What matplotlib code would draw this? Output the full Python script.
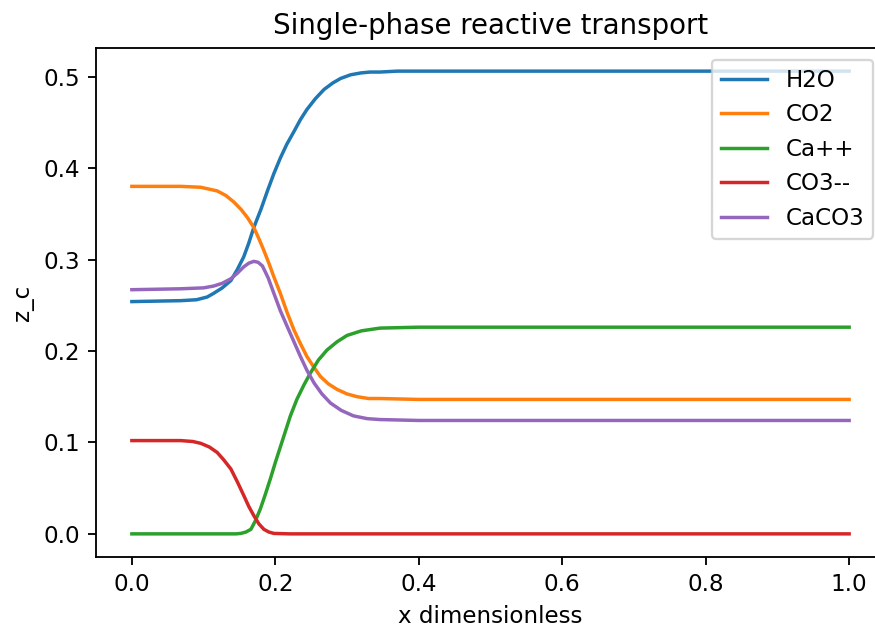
import matplotlib
matplotlib.use("Agg")
import matplotlib.pyplot as plt

# ---- data ----
h2o_x = [0.0, 0.068, 0.090, 0.105, 0.114, 0.126, 0.138, 0.147, 0.156, 0.163, 0.170, 0.180,
         0.189, 0.198, 0.207, 0.216, 0.226, 0.235, 0.244, 0.256, 0.268, 0.280, 0.291, 0.305,
         0.319, 0.332, 0.346, 0.370, 0.400, 1.0]
h2o_y = [0.254, 0.255, 0.256, 0.259, 0.263, 0.269, 0.277, 0.289, 0.303, 0.318, 0.335, 0.355,
         0.375, 0.394, 0.411, 0.426, 0.440, 0.453, 0.464, 0.476, 0.486, 0.493, 0.498, 0.502,
         0.504, 0.505, 0.505, 0.506, 0.506, 0.506]

co2_x = [0.0, 0.068, 0.096, 0.119, 0.131, 0.142, 0.152, 0.161, 0.170, 0.177, 0.184, 0.191,
         0.198, 0.207, 0.216, 0.226, 0.235, 0.244, 0.254, 0.263, 0.274, 0.286, 0.300, 0.314,
         0.330, 0.346, 0.400, 1.0]
co2_y = [0.380, 0.380, 0.379, 0.375, 0.370, 0.363, 0.355, 0.346, 0.335, 0.323, 0.310, 0.296,
         0.281, 0.263, 0.243, 0.223, 0.208, 0.194, 0.182, 0.172, 0.164, 0.158, 0.153, 0.150,
         0.148, 0.148, 0.147, 0.147]

ca_x = [0.0, 0.145, 0.152, 0.159, 0.166, 0.172, 0.179, 0.186, 0.193, 0.200, 0.207, 0.214,
        0.221, 0.230, 0.240, 0.249, 0.260, 0.272, 0.286, 0.300, 0.320, 0.346, 0.400, 1.0]
ca_y = [0.0, 0.0, 0.0005, 0.002, 0.005, 0.014, 0.027, 0.043, 0.060, 0.078, 0.095, 0.112,
        0.129, 0.147, 0.163, 0.176, 0.190, 0.201, 0.210, 0.217, 0.222, 0.225, 0.226, 0.226]

co3_x = [0.0, 0.068, 0.085, 0.096, 0.108, 0.119, 0.128, 0.138, 0.147, 0.156, 0.163, 0.170,
         0.177, 0.184, 0.191, 0.198, 0.220, 1.0]
co3_y = [0.102, 0.102, 0.101, 0.099, 0.095, 0.089, 0.081, 0.071, 0.057, 0.042, 0.030, 0.020,
         0.011, 0.005, 0.002, 0.0005, 0.0, 0.0]

caco3_x = [0.0, 0.068, 0.100, 0.114, 0.126, 0.138, 0.147, 0.156, 0.163, 0.170, 0.176, 0.182,
           0.190, 0.198, 0.207, 0.217, 0.226, 0.235, 0.244, 0.254, 0.265, 0.277, 0.292, 0.309,
           0.328, 0.346, 0.400, 1.0]
caco3_y = [0.267, 0.268, 0.269, 0.271, 0.274, 0.279, 0.285, 0.292, 0.296, 0.298, 0.297, 0.293,
           0.280, 0.263, 0.244, 0.226, 0.210, 0.194, 0.179, 0.165, 0.153, 0.143, 0.135, 0.129,
           0.126, 0.125, 0.124, 0.124]

labels = ["H2O", "CO2", "Ca++", "CO3--", "CaCO3"]
title = "Single-phase reactive transport"
xlabel = "x dimensionless"
ylabel = "z_c"

# ---- figure ----
DPI = 166
fig = plt.figure(figsize=(875 / DPI, 633 / DPI), dpi=DPI)
ax = fig.add_axes([96 / 875, 76 / 633, 789 / 875, 509 / 633])

series = [(h2o_x, h2o_y), (co2_x, co2_y), (ca_x, ca_y), (co3_x, co3_y), (caco3_x, caco3_y)]
for (xs, ys), lab in zip(series, labels):
    ax.plot(xs, ys, label=lab)

ax.spines["right"].set_visible(False)
ax.set_title(title)
ax.set_xlabel(xlabel)
ax.set_ylabel(ylabel)
ax.legend(loc="upper right")

fig.savefig("out.png", dpi=DPI)
